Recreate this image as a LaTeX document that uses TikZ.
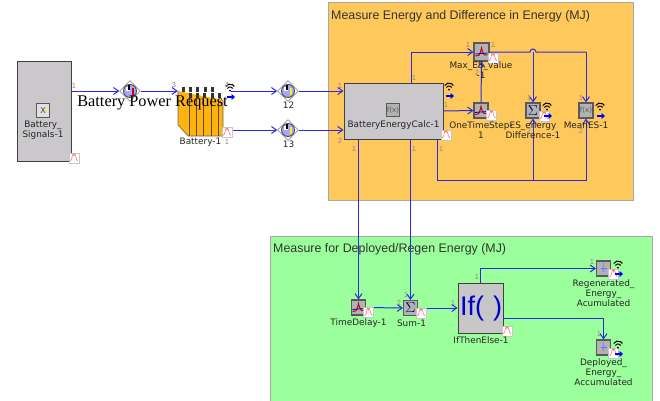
\documentclass[tikz,border=0pt]{standalone}
\usepackage{fontspec}
\usetikzlibrary{arrows.meta,shapes.geometric}
\newfontfamily\lblfont{DejaVu Sans}
\newfontfamily\ttlfont{Liberation Sans}
\newfontfamily\serfont{Liberation Serif}
\definecolor{PanelOrange}{HTML}{FFC85A}
\definecolor{PanelGreen}{HTML}{9BFF9B}
\definecolor{PanelEdge}{HTML}{A8A8A8}
\definecolor{BlockGrey}{HTML}{CAC8CB}
\definecolor{WireBlue}{HTML}{2A2AE6}
\definecolor{PortGrey}{HTML}{8C8C8C}
\definecolor{CellOrange}{HTML}{FFB310}
\tikzset{
  panelbox/.style={draw=PanelEdge,line width=.9pt,inner sep=0,anchor=north west},
  bigblock/.style={draw=black!75,line width=.9pt,fill=BlockGrey,inner sep=0},
  iconbox/.style={draw=black!65,line width=1.1pt,fill=black!30,inner sep=0,minimum width=14pt,minimum height=15pt},
  probebox/.style={draw=black!22,line width=.7pt,fill=white,inner sep=0,minimum size=10pt},
  gaugebox/.style={diamond,draw=black!70,line width=.4pt,inner sep=0,minimum width=21pt,minimum height=21pt},
  wire/.style={draw=WireBlue,line width=1pt},
  wirearrow/.style={wire,-{Straight Barb[length=5pt,width=7pt]}},
  portnum/.style={font=\ttlfont\fontsize{7.5}{8}\selectfont,text=PortGrey,inner sep=0},
  lbl/.style={font=\lblfont\fontsize{8.9}{10}\selectfont,text=black!85,align=center,inner sep=0},
  paneltitle/.style={font=\ttlfont\fontsize{12.4}{13}\selectfont,text=black!80,anchor=west,inner sep=0}
}
\newcommand{\probeicon}[2]{
  \node[probebox] (#1) at (#2) {};
  \draw[red!55,line width=.6pt] ([xshift=-4pt,yshift=-3pt]#1.center) .. controls +(2.5,0) and +(-1.5,-6) .. ([yshift=2.5pt]#1.center) .. controls +(1.5,-6) and +(-2.5,0) .. ([xshift=4pt,yshift=-3pt]#1.center);
}
\newcommand{\sigicon}[1]{
  \begin{scope}[shift={(#1)}]
    \draw[black,line width=1pt] (-4.3,-1.5) arc (150:30:5pt);
    \draw[black,line width=1pt] (-2.6,.4) arc (150:30:3pt);
    \fill[black] (0,2.6) circle (1pt);
    \draw[blue,line width=1.8pt,-{Triangle[length=3.5pt,width=6pt]}] (-3,9) -- (5,9);
  \end{scope}
}
\newcommand{\gaugeicon}[3]{
  \node[gaugebox] (#1) at (#2) {};
  \filldraw[draw=black!70,fill=blue!35!white,line width=.9pt] (#1.center) circle (6.5pt);
  \fill[white] (#1.center) ++(-4.5,-4.5) rectangle ++(4.5,4.5);
  \draw[#3,line width=1.6pt] ([xshift=3pt,yshift=3pt]#1.center) -- ([xshift=3pt,yshift=-4pt]#1.center);
  \draw[black,line width=1.1pt] ([xshift=-1pt,yshift=6pt]#1.center) -- ([xshift=-1pt,yshift=1pt]#1.center);
}
\newcommand{\delaycurve}[1]{
  \draw[red!80!black,line width=1pt] ([xshift=-6pt,yshift=-4pt]#1.center) .. controls +(3,0) and +(-2,9) .. ([xshift=0pt,yshift=4pt]#1.center) .. controls +(2,9) and +(-2,0) .. ([xshift=6pt,yshift=-3pt]#1.center);
  \draw[blue!80!black,line width=.8pt] ([xshift=-6pt,yshift=-2pt]#1.center) -- ([xshift=6pt,yshift=-1pt]#1.center);
}
\begin{document}
\begin{tikzpicture}[x=1pt,y=-1pt]
\useasboundingbox (0,0) rectangle (660,400);
\fill[white] (0,0) rectangle (660,400);
\node[panelbox,fill=PanelOrange,minimum width=305pt,minimum height=198pt] (paneles) at (328,2) {};
\node[panelbox,fill=PanelGreen,minimum width=382pt,minimum height=166pt] (paneldep) at (270,235.5) {};
\node[paneltitle] at (331,16) {Measure Energy and Difference in Energy (MJ)};
\node[paneltitle] at (273,249) {Measure for Deployed/Regen Energy (MJ)};

\node[bigblock,minimum width=54pt,minimum height=100pt] (signals) at (44,111) {};
\node[bigblock,minimum width=99pt,minimum height=56pt] (calc) at (393.5,111) {};
\node[bigblock,fill=black!22,minimum width=45pt,minimum height=50pt] (ifelse) at (480.5,308) {};
\node[inner sep=0,minimum width=46pt,minimum height=46pt] (battery) at (201,113) {};
\fill[CellOrange] (178,91) -- (223,100) -- (223,136) -- (188,136) -- (178,125) -- cycle;
\draw[black!60,line width=.6pt] (178,91) -- (178,125) -- (188,136) -- (223,136) -- (223,100);
\foreach \i in {0,...,4} {
  \draw[black!60!CellOrange,line width=.9pt] (189+7.4*\i,94+1.4*\i) -- (189+7.4*\i,136);
  \fill[black!80] (181.5+7.4*\i,87) rectangle +(3,5);
  \fill[black!80] (188.5+7.4*\i,93) rectangle +(3,5);
}
\node[iconbox,minimum width=15pt,minimum height=18pt] (maxes) at (481.5,52) {};
\node[iconbox] (onestep) at (481,110.5) {};
\node[iconbox] (esdiff) at (533,110.5) {};
\node[iconbox] (meanes) at (586,110.5) {};
\node[iconbox] (delay) at (358.5,307.5) {};
\node[iconbox] (sum) at (410.5,308) {};
\node[iconbox] (regen) at (603.5,268.5) {};
\node[iconbox] (deployed) at (603.5,347.5) {};
\gaugeicon{gaugepow}{130,91}{red!80!black}
\gaugeicon{gaugetwelve}{288,91}{yellow}
\gaugeicon{gaugethirteen}{288,130}{yellow}
\coordinate (battout) at (231,91);
\coordinate (calcbus) at (437,139);
\coordinate (busturn) at (437,180);
\coordinate (ifout) at (503,318);

\draw[wirearrow] (signals.east |- gaugepow) -- (gaugepow.west);
\draw[wirearrow] (gaugepow.east) -- (battery.west |- gaugepow);
\draw[wirearrow] (battout) -- (gaugetwelve.west);
\draw[wirearrow] (gaugetwelve.east) -- (calc.west |- gaugetwelve);
\draw[wirearrow] (battery.east |- gaugethirteen) -- (gaugethirteen.west);
\draw[wirearrow] (gaugethirteen.east) -- (calc.west |- gaugethirteen);
\draw[wirearrow] (411,83) -- (411,52) -- (maxes.west);
\draw[wirearrow] (calc.east) -- (onestep.west);
\draw[wirearrow] (onestep.north) -- (maxes.south);
\draw[wire] (maxes.east) -- (530,52) arc (180:0:3pt) -- (meanes.north |- maxes.east);
\draw[wirearrow] (maxes.east -| meanes.north) -- (meanes.north);
\draw[wirearrow] (maxes.east -| esdiff.north) -- (esdiff.north);
\draw[wirearrow] (calcbus) -- (busturn) -- (busturn -| meanes.south) -- (meanes.south);
\draw[wirearrow] (busturn -| esdiff.south) -- (esdiff.south);
\draw[wirearrow] (delay.north |- calc.south) -- (delay.north);
\draw[wirearrow] (sum.north |- calc.south) -- (sum.north);
\draw[wirearrow] (delay.east) -- (sum.west);
\draw[wirearrow] (sum.east) -- (ifelse.west);
\draw[wirearrow] (ifelse.north) -- (ifelse.north |- regen.west) -- (regen.west);
\draw[wirearrow] (ifout) -- (deployed.north |- ifout) -- (deployed.north);

\delaycurve{maxes}
\delaycurve{onestep}
\delaycurve{delay}
\node[inner sep=0,text=blue!45!black,font=\bfseries\fontsize{15}{15}\selectfont] at (esdiff) {$\Sigma$};
\node[inner sep=0,text=blue!45!black,font=\bfseries\fontsize{15}{15}\selectfont] at (sum) {$\Sigma$};
\node[inner sep=0,text=black!65,font=\lblfont\fontsize{7}{7}\selectfont] at (meanes) {f(x)};
\node[iconbox,minimum width=13pt,minimum height=13pt,font=\lblfont\fontsize{7}{7}\selectfont,text=black!65] (calcicon) at (393,110) {f(x)};
\node[iconbox,fill=black!12,minimum width=13pt,minimum height=14pt,font=\lblfont\fontsize{8}{8}\selectfont,text=black!75] (signalsicon) at (43,110.5) {X\hspace{3pt}};
\fill[yellow] (signalsicon.center) ++(1.5,-.7) rectangle ++(4,1.4);
\node[inner sep=0,text=blue!60,align=center,font=\lblfont\fontsize{5}{5}\selectfont] at (regen) {1\\[.3pt]s};
\draw[blue!60,line width=.4pt] ([xshift=-3pt]regen.center) -- ([xshift=3pt]regen.center);
\node[inner sep=0,text=blue!60,align=center,font=\lblfont\fontsize{5}{5}\selectfont] at (deployed) {1\\[.3pt]s};
\draw[blue!60,line width=.4pt] ([xshift=-3pt]deployed.center) -- ([xshift=3pt]deployed.center);
\node[inner sep=0,text=blue!80!black,font=\ttlfont\fontsize{27}{27}\selectfont] at (481,309) {If(\,\,)};

\probeicon{probesignals}{74,158}
\probeicon{probebattery}{227,132.5}
\probeicon{probecalc}{446,135}
\probeicon{probemax}{493,58}
\probeicon{probeonestep}{491.5,115}
\probeicon{probeesdiff}{544,116}
\probeicon{probedelay}{368.5,312.5}
\probeicon{probesum}{421,313}
\probeicon{probeif}{507,331}
\probeicon{proberegen}{613.5,274}
\probeicon{probedeployed}{613.5,353}
\sigicon{230,88}
\sigicon{449,87}
\sigicon{547,107}
\sigicon{600,107}
\sigicon{618,265}
\sigicon{618,345}

\node[font=\serfont\fontsize{16.3}{16}\selectfont,text=black,inner sep=0] at (152.5,102.5) {Battery Power Request};
\node[lbl] at (43,130) {Battery\_\\Signals-1};
\node[lbl] at (200.5,142.5) {Battery-1};
\node[lbl] at (288.5,105.5) {12};
\node[lbl] at (288.5,144.5) {13};
\node[lbl] at (393.5,125) {BatteryEnergyCalc-1};
\node[lbl] at (481,70) {Max\_ES\_value\\-1};
\node[lbl] at (481,130) {OneTimeStep-\\1};
\node[lbl] at (533,130) {ES\_energy\\Difference-1};
\node[lbl] at (586,125) {MeanES-1};
\node[lbl] at (358.5,323) {TimeDelay-1};
\node[lbl] at (411.5,323) {Sum-1};
\node[lbl] at (481,340.5) {IfThenElse-1};
\node[lbl] at (603.5,293) {Regenerated\_\\Energy\_\\Acumulated};
\node[lbl] at (603.5,372) {Deployed\_\\Energy\_\\Accumulated};

\foreach \px/\py/\pt in {74/86/1,174/85/3,227/85/4,227/142/1,340/86/1,340/141/2,414/78/1,354/149/1,414/149/1,441/149/1,446/105/1,
  468/45/1,493/45/1,477/73/2,529/98/1,529/131/2,581/98/1,581/131/2,406/295/1,399/303/2,453/303/1,477/277/1,592/262/1,599/334/1} {
  \node[portnum] at (\px,\py) {\pt};
}
\end{tikzpicture}
\end{document}
